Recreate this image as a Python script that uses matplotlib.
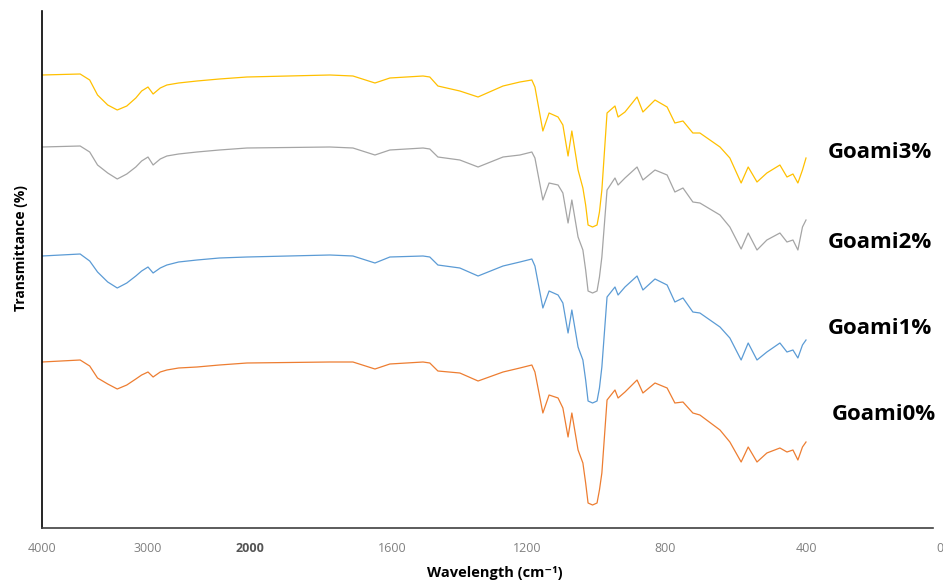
"""
FTIR 스펙트럼 (Goami 0~3%) 재현
"""

import numpy as np
import matplotlib
matplotlib.use('Agg')
import matplotlib.pyplot as plt

# 파수 (cm-1)
wavenumber = [4000, 3640, 3550, 3476, 3380, 3290, 3200, 3115, 3060, 3000,
              2950, 2880, 2815, 2700, 2520, 2300, 2030, 1775, 1710, 1648,
              1606, 1508, 1488, 1464, 1399, 1345, 1271, 1221, 1186, 1177,
              1154, 1136, 1110, 1096, 1081, 1070, 1052, 1038, 1030, 1023,
              1010, 997, 990, 983, 968, 945, 936, 916, 881, 864,
              829, 794, 772, 749, 721, 701, 644, 616, 584, 564,
              539, 511, 474, 454, 437, 423, 410, 400]

# 투과율 (임의 단위, 시료별 오프셋 포함)
goami3 = [453, 454, 448, 433, 423, 418, 422, 430, 437, 441,
          434, 440, 443, 445, 447, 449, 451, 453, 452, 445,
          450, 452, 451, 442, 437, 431, 442, 446, 448, 441,
          397, 415, 411, 403, 372, 397, 358, 340, 323, 303,
          301, 303, 316, 338, 415, 422, 411, 416, 431, 416,
          428, 421, 405, 407, 395, 395, 381, 370, 345, 361,
          346, 355, 363, 351, 354, 345, 358, 370]

goami2 = [381, 382, 376, 363, 355, 349, 354, 361, 367, 371,
          363, 369, 372, 374, 376, 378, 380, 381, 380, 373,
          378, 380, 379, 371, 368, 361, 371, 373, 376, 370,
          328, 345, 343, 335, 305, 328, 291, 278, 258, 237,
          235, 237, 251, 271, 338, 350, 343, 350, 361, 348,
          358, 353, 336, 340, 326, 325, 313, 301, 279, 295,
          278, 288, 295, 286, 288, 278, 301, 308]

goami1 = [272, 274, 267, 256, 246, 240, 245, 252, 257, 261,
          255, 260, 263, 266, 268, 270, 271, 273, 272, 265,
          271, 272, 271, 263, 260, 252, 262, 266, 269, 262,
          220, 237, 233, 225, 195, 218, 181, 168, 148, 127,
          125, 127, 140, 161, 231, 241, 233, 241, 252, 238,
          249, 243, 226, 230, 216, 215, 201, 190, 168, 185,
          168, 176, 185, 176, 178, 170, 183, 188]

goami0 = [166, 168, 162, 150, 144, 139, 143, 149, 153, 156,
          151, 156, 158, 160, 161, 163, 165, 166, 166, 159,
          164, 166, 165, 157, 155, 147, 156, 160, 163, 156,
          115, 133, 130, 120, 91, 115, 78, 65, 45, 25,
          23, 25, 38, 55, 128, 138, 130, 136, 148, 135,
          145, 140, 125, 126, 115, 113, 98, 86, 66, 81,
          66, 75, 80, 76, 78, 68, 81, 86]

series_names = ['Goami3%', 'Goami2%', 'Goami1%', 'Goami0%']
tick_values = [4000, 3000, 2000, 1600, 1200, 800, 400, 0]

# 축 구간별 눈금 위치 (2000 이하 확대)
axis_knots_wn = np.array([4000, 3000, 2000, 1600, 1200, 800, 400, 0], dtype=float)
axis_knots_pos = np.array([42, 148, 250, 392, 527, 665, 806, 940], dtype=float)


def forward(w):
    return np.interp(-np.asarray(w, dtype=float), -axis_knots_wn, axis_knots_pos)


def inverse(p):
    return -np.interp(np.asarray(p, dtype=float), axis_knots_pos, -axis_knots_wn)


FONT = ['Open Sans', 'DejaVu Sans']

W, H = 943, 588
fig = plt.figure(figsize=(W / 100, H / 100), dpi=100)
ax = fig.add_axes([42 / W, (H - 528) / H, (940 - 42) / W, (528 - 11) / H])

colors = {
    'Goami3%': '#FFC000',
    'Goami2%': '#A5A5A5',
    'Goami1%': '#5B9BD5',
    'Goami0%': '#ED7D31',
}
data = {
    'Goami3%': goami3,
    'Goami2%': goami2,
    'Goami1%': goami1,
    'Goami0%': goami0,
}

ax.set_xscale('function', functions=(forward, inverse))

for name in series_names:
    ax.plot(wavenumber, data[name], color=colors[name], linewidth=0.9)

ax.set_xlim(0, 4000)
ax.set_ylim(0, 517)

# 축 스타일
for side in ['top', 'right']:
    ax.spines[side].set_visible(False)
ax.spines['left'].set_color('black')
ax.spines['left'].set_linewidth(1.2)
ax.spines['bottom'].set_color('#404040')
ax.spines['bottom'].set_linewidth(1.2)
ax.spines['bottom'].set_bounds(21, 4000)

ax.set_yticks([])
ax.set_xticks(tick_values)
ax.set_xticklabels([str(v) for v in tick_values], family=FONT)
ax.tick_params(axis='x', length=0, pad=10, labelsize=9, labelcolor='#808080')
for lbl in ax.get_xticklabels():
    if lbl.get_text() == '2000':
        lbl.set_fontweight('bold')
        lbl.set_color('#555555')

ax.set_xlabel('Wavelength (cm\u207b\u00b9)', fontsize=10.5, fontweight='bold',
              family=FONT)
ax.xaxis.set_label_coords((495 - 42) / (940 - 42), -(566 - 528) / (528 - 11))
ax.set_ylabel('Transmittance (%)', fontsize=10, fontweight='bold', family=FONT)
ax.yaxis.set_label_coords(-(42 - 28) / (940 - 42), (528 - 248) / (528 - 11))

# 시료 이름
label_pos = {
    'Goami3%': (828, 153),
    'Goami2%': (828, 243),
    'Goami1%': (828, 328),
    'Goami0%': (832, 415),
}
for name in series_names:
    x, y = label_pos[name]
    fig.text(x / W, 1 - y / H, name, fontsize=16, fontweight='bold',
             ha='left', va='center', family=FONT)

fig.savefig('out.png', dpi=100)
